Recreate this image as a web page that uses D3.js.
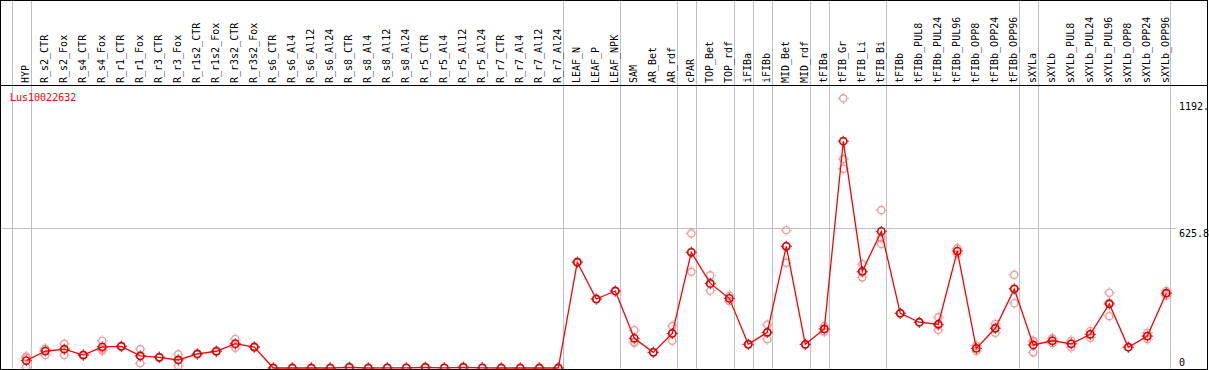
<!DOCTYPE html>
<html>
<head>
<meta charset="utf-8">
<script src="https://cdn.jsdelivr.net/npm/d3@7"></script>
<style>
  body { margin: 0; background: #fff; }
  svg { display: block; }
  text { font-family: "DejaVu Sans Mono", monospace; font-size: 10px; }
</style>
</head>
<body>
<div id="chart"></div>
<script>
var svgWidth = 1209;
var svgHeight = 370;

var title = "Lus10022632";

var categories = ["HYP",
  "R_s2_CTR", "R_s2_Fox", "R_s4_CTR", "R_s4_Fox", "R_r1_CTR", "R_r1_Fox", "R_r3_CTR", "R_r3_Fox",
  "R_r1s2_CTR", "R_r1s2_Fox", "R_r3s2_CTR", "R_r3s2_Fox",
  "R_s6_CTR", "R_s6_Al4", "R_s6_Al12", "R_s6_Al24", "R_s8_CTR", "R_s8_Al4", "R_s8_Al12", "R_s8_Al24",
  "R_r5_CTR", "R_r5_Al4", "R_r5_Al12", "R_r5_Al24", "R_r7_CTR", "R_r7_Al4", "R_r7_Al12", "R_r7_Al24",
  "LEAF_N", "LEAF_P", "LEAF_NPK", "SAM", "AR_Bet", "AR_rdf", "cPAR", "TOP_Bet", "TOP_rdf",
  "iFIBa", "iFIBb", "MID_Bet", "MID_rdf", "tFIBa", "tFIB_Gr", "tFIB_Li", "tFIB_Bi",
  "tFIBb", "tFIBb_PUL8", "tFIBb_PUL24", "tFIBb_PUL96", "tFIBb_OPP8", "tFIBb_OPP24", "tFIBb_OPP96",
  "sXYLa", "sXYLb", "sXYLb_PUL8", "sXYLb_PUL24", "sXYLb_PUL96", "sXYLb_OPP8", "sXYLb_OPP24", "sXYLb_OPP96"];

// first category of each group (a grey separator is drawn before it)
var groupStarts = ["HYP", "R_s2_CTR", "LEAF_N", "SAM", "cPAR", "TOP_Bet", "iFIBa", "iFIBb",
  "MID_Bet", "tFIBa", "tFIB_Gr", "tFIBb", "sXYLa", "sXYLb"];

var means = [33, 76, 84, 58, 95, 97, 54, 48, 36, 63, 75, 109, 94,
  0, 0, 0, 0, 3, 0, 1, 1, 3, 1, 3, 1, 0, 0, 0, 0,
  474, 309, 345, 133, 70, 155, 518, 379, 312,
  106, 160, 545, 106, 175, 1016, 433, 612,
  245, 205, 196, 524, 88, 178, 354,
  103, 122, 108, 151, 287, 93, 143, 335];

var replicates = [[51, 45, 4], [85, 58, 86], [108, 58, 85], [60, 56, 59], [122, 78, 86], [99, 95, 97],
  [85, 21, 55], [49, 46, 48], [61, 10, 36], [64, 61, 63], [77, 72, 75], [130, 91, 106], [96, 92, 94],
  [0, 0, 0], [0, 0, 0], [0, 0, 0], [0, 0, 0], [5, 2, 2], [0, 0, 0], [1, 0, 1], [1, 1, 0],
  [4, 3, 2], [1, 1, 0], [5, 3, 1], [1, 0, 1], [0, 0, 0], [0, 0, 0], [0, 0, 0], [0, 0, 0],
  [476, 472], [309, 310], [345, 344], [169, 113, 117], [70, 71], [188, 122, 155],
  [603, 431, 520], [415, 346, 376], [324, 300],
  [106, 107], [193, 129, 158], [617, 472, 546], [106, 105], [188, 163, 174],
  [1208, 936, 893], [465, 406, 428], [707, 556, 582],
  [245, 246], [205, 204], [227, 170, 191], [536, 512], [76, 100], [197, 158, 179], [417, 290, 355],
  [122, 70, 117], [133, 111], [122, 93, 109], [166, 136, 151], [337, 232, 292], [93, 94],
  [158, 129, 142], [345, 324, 336]];

var tickValues = [1192, 625.8, 0];
var tickLabels = ["1192.", "625.8", "0"];
var gridValues = [625.8];

var headerBottom = 85;
var plotBottom = 369;

var svg = d3.select("#chart")
  .append("svg")
  .attr("width", svgWidth)
  .attr("height", svgHeight);

var xBand = d3.scaleBand()
  .domain(categories)
  .range([11.7, 11.7 + 19 * categories.length])
  .padding(0);
var px = d => xBand(d) + 14.6;

var yScale = d3.scaleLinear()
  .domain([0, 625.8])
  .range([368, 228.3]);

// grid lines
svg.append("g")
  .selectAll("line")
  .data(groupStarts)
  .enter()
  .append("line")
  .attr("x1", d => Math.round(xBand(d)) + 0.5)
  .attr("x2", d => Math.round(xBand(d)) + 0.5)
  .attr("y1", 0)
  .attr("y2", plotBottom)
  .attr("stroke", "#c0c0c0");
var xEnd = Math.round(xBand.range()[1]) - 0.5;
svg.append("line")
  .attr("x1", xEnd).attr("x2", xEnd)
  .attr("y1", 0).attr("y2", plotBottom)
  .attr("stroke", "#c0c0c0");

svg.append("g")
  .selectAll("line")
  .data(gridValues)
  .enter()
  .append("line")
  .attr("x1", 1)
  .attr("x2", 1176)
  .attr("y1", d => Math.round(yScale(d)) + 0.5)
  .attr("y2", d => Math.round(yScale(d)) + 0.5)
  .attr("stroke", "#c0c0c0");

// frame
svg.append("rect")
  .attr("x", 0.5).attr("y", 0.5)
  .attr("width", 1207).attr("height", plotBottom)
  .attr("fill", "none")
  .attr("stroke", "#000");
svg.append("line")
  .attr("x1", 0).attr("x2", 1208)
  .attr("y1", headerBottom + 0.5).attr("y2", headerBottom + 0.5)
  .attr("stroke", "#000");

// column labels
svg.append("g")
  .selectAll("text")
  .data(categories)
  .enter()
  .append("text")
  .attr("transform", d => `translate(${px(d) + 2.8}, 83) rotate(-90)`)
  .attr("fill", "#000")
  .text(d => d);

// value labels
svg.append("g")
  .selectAll("text")
  .data(tickValues)
  .enter()
  .append("text")
  .attr("x", 1179)
  .attr("y", d => Math.min(yScale(d) + 8.5, 365.5))
  .attr("fill", "#000")
  .text((d, i) => tickLabels[i]);

svg.append("text")
  .attr("x", 10)
  .attr("y", 101)
  .attr("fill", "#ff0000")
  .text(title);

svg.append("clipPath").attr("id", "plotclip")
  .append("rect")
  .attr("x", 1).attr("y", headerBottom + 1)
  .attr("width", 1206).attr("height", plotBottom - headerBottom - 1);

var plot = svg.append("g").attr("clip-path", "url(#plotclip)");

function marker(g, color, width) {
  g.append("circle")
    .attr("r", 3.6)
    .attr("fill", "none")
    .attr("stroke", color)
    .attr("stroke-width", width);
  g.append("path")
    .attr("d", "M0,-5.5V-4.3M0,4.3V5.5M-5.5,0H-4.3M4.3,0H5.5")
    .attr("stroke", color)
    .attr("stroke-width", 1);
}

// replicate points
var repData = [];
replicates.forEach(function(r, i) {
  r.forEach(function(v) { repData.push({ cat: categories[i], value: v }); });
});
plot.append("g")
  .selectAll("g")
  .data(repData)
  .enter()
  .append("g")
  .attr("transform", d => `translate(${px(d.cat)}, ${yScale(d.value)})`)
  .each(function() { marker(d3.select(this), "#f29a9a", 1.4); });

// mean line
var line = d3.line()
  .x((d, i) => px(categories[i]))
  .y(d => yScale(d));
plot.append("path")
  .datum(means)
  .attr("d", line)
  .attr("fill", "none")
  .attr("stroke", "#ff0000")
  .attr("stroke-width", 1.3);

plot.append("g")
  .selectAll("g")
  .data(means)
  .enter()
  .append("g")
  .attr("transform", (d, i) => `translate(${px(categories[i])}, ${yScale(d)})`)
  .each(function() { marker(d3.select(this), "#e00000", 1.6); });
</script>
</body>
</html>
